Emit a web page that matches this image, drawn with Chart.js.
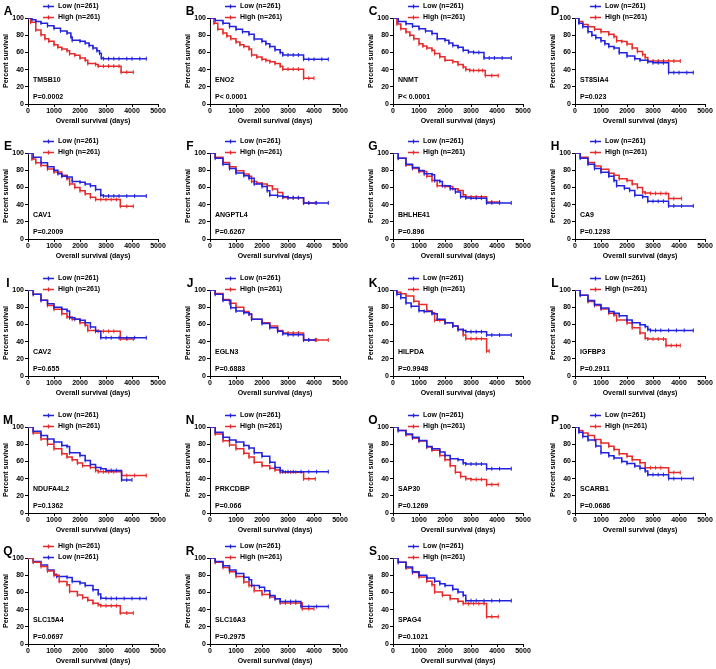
<!DOCTYPE html>
<html>
<head>
<meta charset="utf-8">
<script src="https://cdn.jsdelivr.net/npm/chart.js@4.4.0/dist/chart.umd.min.js"></script>
<style>
  body { margin: 0; background: #fff; width: 716px; height: 669px; overflow: hidden; position: relative; }
  canvas.panel { position: absolute; }
</style>
</head>
<body>
<script>
// panel labels
var letters = ['A','B','C','D','E','F','G','H','I','J','K','L','M','N','O','P','Q','R','S'];
var genes = ['TMSB10','ENO2','NNMT','ST8SIA4','CAV1','ANGPTL4','BHLHE41','CA9','CAV2','EGLN3','HILPDA','IGFBP3','NDUFA4L2','PRKCDBP','SAP30','SCARB1','SLC15A4','SLC16A3','SPAG4'];
var pValues = ['P=0.0002','P< 0.0001','P< 0.0001','P=0.023','P=0.2009','P=0.6267','P=0.896','P=0.1293','P=0.655','P=0.6883','P=0.9948','P=0.2911','P=0.1362','P=0.066','P=0.1269','P=0.0686','P=0.0697','P=0.2975','P=0.1021'];
var lowLabel = 'Low (n=261)';
var highLabel = 'High (n=261)';
var highFirst = ['Q']; // legend lists High first in these panels

var xTicks = [0, 1000, 2000, 3000, 4000, 5000];
var yTicks = [0, 20, 40, 60, 80, 100];

// survival curves, [days, percent survival]
var lowA = [[0,100],[150,98],[300,96],[500,94],[750,91],[1000,88],[1250,85],[1500,82.5],[1650,78],[1700,74],[2000,73],[2200,71],[2350,68],[2500,65],[2650,62],[2750,59],[2820,53.5],[2900,52.7],[3100,52.7],[3300,52.7],[3500,52.7],[3800,52.7],[4000,52.7],[4300,52.7],[4550,52.7]];
var highA = [[0,100],[100,95],[300,86],[500,80.6],[650,76],[800,73],[1000,69],[1150,66],[1300,64],[1500,62],[1600,58.5],[1800,56.6],[2000,53.5],[2200,51],[2300,47],[2600,46],[2700,44],[2900,44],[3100,44],[3300,44],[3500,44],[3580,37],[3800,37],[4050,37]];
var lowB = [[0,100],[200,97],[500,94],[750,90],[1000,87],[1250,84],[1500,81],[1700,75.6],[2000,73],[2150,70],[2300,67],[2500,63],[2700,60],[2800,57],[3000,57],[3200,57],[3400,57],[3600,52],[3800,52],[4000,52],[4300,52],[4550,52]];
var highB = [[0,100],[150,94],[300,87],[500,82.5],[650,79],[800,76],[1000,72],[1150,69],[1300,67],[1500,64],[1600,57],[1800,54.6],[2000,52],[2150,50.5],[2300,49],[2500,47],[2700,44],[2800,40.5],[3000,40.5],[3200,40.5],[3400,40.5],[3600,30],[3800,30],[4000,30]];
var lowC = [[0,100],[200,96],[500,93.4],[750,90.5],[1000,87.6],[1250,85],[1500,82],[1700,76],[2000,74],[2150,71],[2300,68],[2500,66],[2700,62.5],[2900,60.5],[3100,60],[3300,60],[3500,53.5],[3700,53.5],[3900,53.5],[4200,53.5],[4550,53.5]];
var highC = [[0,100],[150,93],[300,87.6],[500,83.8],[650,80],[800,76],[1000,70],[1150,67.5],[1300,65],[1500,62.5],[1600,58.7],[1800,54.8],[2000,51],[2300,49],[2500,46],[2700,43],[2800,40],[2950,39],[3100,39],[3300,39],[3450,39],[3550,33],[3800,33],[4050,33]];
var lowD = [[0,100],[150,94],[300,89.8],[500,84],[650,80],[800,77],[1000,73.5],[1150,70],[1300,67],[1500,65],[1700,59.5],[2000,55.7],[2300,52.7],[2500,51],[2800,49],[3000,48],[3200,48],[3400,48],[3600,36.5],[3800,36.5],[4000,36.5],[4300,36.5],[4550,36.5]];
var highD = [[0,100],[150,96],[300,92.4],[500,89.8],[750,87],[1000,84],[1300,81],[1500,78.4],[1600,73.5],[1800,72.7],[2000,69.7],[2200,65],[2400,61],[2600,57.6],[2700,54],[2800,50],[3000,50],[3200,50],[3400,50],[3600,50],[3800,50],[4050,50]];
var lowE = [[0,100],[200,95],[500,88.7],[750,84],[1000,80],[1150,76],[1300,73],[1500,72],[1700,67],[2000,66],[2200,64],[2400,62],[2600,57.6],[2800,51],[2900,50],[3100,50],[3300,50],[3500,50],[3800,50],[4100,50],[4550,50]];
var highE = [[0,100],[150,93],[300,88.7],[500,85.6],[750,81.5],[1000,77.8],[1300,74],[1500,70],[1600,64],[1800,60],[2000,56],[2200,52.5],[2400,48.6],[2600,46],[2800,46],[3000,46],[3200,46],[3400,46],[3550,38],[3800,38],[4050,38]];
var lowF = [[0,100],[200,94],[500,87],[750,82],[1000,76.7],[1300,73.6],[1500,70.5],[1700,64],[2000,61],[2200,56],[2300,51],[2600,50],[2800,49],[3000,48],[3200,48],[3400,48],[3600,42],[3800,42],[4100,42],[4550,42]];
var highF = [[0,100],[200,95],[500,89],[750,84],[1000,79.5],[1300,75.6],[1500,73],[1600,67],[1800,65],[2000,64],[2200,62],[2400,58],[2600,54],[2800,48.4],[3000,48],[3200,48],[3400,48],[3600,42],[3800,42],[4050,42]];
var lowG = [[0,100],[200,94],[500,87],[750,83],[1000,79.6],[1200,75.8],[1500,74.6],[1600,68],[1800,67],[1900,62],[2200,58.5],[2400,54.6],[2600,49],[2800,47.7],[3000,47.5],[3200,47.5],[3400,47.5],[3600,42],[3800,42],[4100,42],[4550,42]];
var highG = [[0,100],[200,94],[500,86],[750,82],[1000,78.5],[1300,73],[1500,68],[1700,62],[2000,61],[2300,58.5],[2500,56.5],[2700,51.5],[2800,49],[3000,49],[3200,49],[3400,49],[3600,43],[3800,43],[4100,43]];
var lowH = [[0,100],[200,94],[500,87],[750,82],[1000,77.7],[1300,73],[1500,68],[1600,62],[1900,59],[2100,56.5],[2300,50.8],[2600,49],[2800,43.8],[3000,43.8],[3200,43.8],[3400,43.8],[3600,38.5],[3800,38.5],[4100,38.5],[4550,38.5]];
var highH = [[0,100],[200,95],[500,89],[750,85],[1000,81],[1300,76.5],[1500,74],[1700,70],[2000,68],[2200,64],[2400,60],[2600,54.6],[2700,53.5],[2900,53],[3100,53],[3300,53],[3500,53],[3600,47],[3800,47],[4100,47]];
var lowI = [[0,100],[200,95],[500,88],[750,84],[1000,80],[1300,77.5],[1500,75.6],[1600,67.8],[1800,66],[2000,64.7],[2200,62],[2400,57],[2600,52],[2800,44.5],[3000,44.5],[3200,44.5],[3500,44.5],[3800,44.5],[4100,44.5],[4550,44.5]];
var highI = [[0,100],[200,95],[500,88],[750,82],[1000,77.5],[1300,72.5],[1500,68.6],[1700,66],[2000,62],[2200,59],[2300,53],[2700,52],[2900,52],[3100,52],[3300,52],[3550,43],[3800,43],[4050,43]];
var lowJ = [[0,100],[200,95],[500,88],[800,79.5],[1000,75.6],[1300,73.6],[1500,72],[1600,66],[2000,61],[2300,56],[2600,52],[2800,49],[3000,48],[3200,48],[3400,48],[3600,42],[3800,42],[4050,42]];
var highJ = [[0,100],[200,96],[500,89],[750,84.5],[1000,80],[1300,75],[1500,72],[1600,66],[2000,62],[2300,58],[2600,53],[2800,50],[3000,50],[3200,50],[3400,50],[3600,42],[3800,42],[4100,42],[4550,42]];
var lowK = [[0,100],[150,95],[300,91],[500,85],[700,81],[1000,76],[1200,75],[1500,72.5],[1700,66],[2000,62],[2300,58],[2500,54],[2700,53],[2800,51.5],[3000,51.5],[3200,51.5],[3400,51.5],[3600,47.7],[3800,47.7],[4100,47.7],[4550,47.7]];
var highK = [[0,100],[150,97.5],[300,95.7],[500,93],[800,87],[1000,83],[1300,76],[1500,73.6],[1600,64.7],[1800,64.7],[2000,62],[2300,58],[2500,54],[2700,47.7],[2800,43.4],[3000,43.4],[3200,43.4],[3400,43.4],[3600,29],[3700,29]];
var lowL = [[0,100],[200,94],[500,87.7],[750,83],[1000,79],[1300,75],[1500,73],[1700,70],[2000,65],[2200,62],[2500,59.6],[2700,57.7],[2800,54],[2900,53],[3100,53],[3300,53],[3600,53],[3900,53],[4200,53],[4550,53]];
var highL = [[0,100],[200,94],[500,86.5],[750,82],[1000,78],[1300,73],[1500,71],[1600,65],[2000,61.5],[2200,56],[2500,50],[2700,44],[2800,43],[3000,43],[3200,43],[3400,43],[3500,35.4],[3700,35.4],[3900,35.4],[4050,35.4]];
var lowM = [[0,100],[200,95],[500,90],[750,86],[1000,82.5],[1300,78.6],[1500,77.4],[1600,70],[2000,67],[2200,61],[2400,56.4],[2600,53],[2800,51.4],[3000,49.4],[3200,49.4],[3400,49.4],[3600,38.5],[3800,38.5],[4000,38.5]];
var highM = [[0,100],[200,93],[500,86],[750,80],[1000,74.7],[1300,69],[1500,65],[1700,62],[1900,58],[2100,55],[2400,53],[2600,49.4],[2700,48],[2900,48],[3100,48],[3300,48],[3600,43.6],[3800,43.6],[4100,43.6],[4550,43.6]];
var lowN = [[0,100],[200,94],[500,88],[750,85],[1000,82.5],[1300,78.6],[1500,75.5],[1700,70],[2000,66],[2300,59],[2500,53],[2700,49.4],[2800,48],[3000,48],[3200,48],[3500,48],[3800,48],[4100,48],[4550,48]];
var highN = [[0,100],[200,92],[500,84],[750,79],[1000,74.7],[1300,69.6],[1500,65],[1700,59],[2000,55],[2300,52],[2500,50],[2700,47.5],[2900,47.5],[3100,47.5],[3300,47.5],[3600,39.7],[3800,39.7],[4050,39.7]];
var lowO = [[0,100],[200,96],[500,92],[750,88],[1000,84.4],[1300,77.4],[1500,74.7],[1800,70.8],[2000,67],[2200,63],[2500,62],[2700,58],[2800,57],[3000,57],[3200,57],[3400,57],[3600,51.5],[3800,51.5],[4100,51.5],[4550,51.5]];
var highO = [[0,100],[200,96],[500,91],[750,87],[1000,83.6],[1300,76.6],[1500,73],[1800,67],[2000,62],[2200,55],[2400,47.5],[2600,42.4],[2800,39.7],[3000,39],[3200,39],[3400,39],[3600,33],[3800,33],[4050,33]];
var lowP = [[0,100],[150,94],[300,89],[500,85],[800,78],[1000,70],[1300,66.5],[1500,64],[1800,60],[2000,57.7],[2300,54.6],[2500,52],[2700,48.8],[2800,44.6],[3000,44.6],[3200,44.6],[3400,44.6],[3600,40],[3800,40],[4100,40],[4550,40]];
var highP = [[0,100],[150,96],[300,93],[500,90],[750,85.5],[1000,81.5],[1300,77.7],[1500,73.8],[1700,68.8],[2000,66],[2200,62],[2500,58.5],[2700,52.7],[2900,52.7],[3100,52.7],[3300,52.7],[3600,47],[3800,47],[4050,47]];
var lowQ = [[0,100],[200,96],[500,92],[750,86],[1000,81],[1100,78.6],[1500,77.4],[1700,72.8],[2000,70.8],[2200,68],[2500,63],[2700,58],[2800,53.3],[3000,53],[3200,53],[3400,53],[3700,53],[4000,53],[4300,53],[4550,53]];
var highQ = [[0,100],[200,95],[500,90],[750,85],[1000,79.8],[1200,72.8],[1500,69],[1600,61],[1900,57],[2100,54],[2300,51],[2500,47.5],[2700,45.5],[2800,44.5],[3000,44.5],[3200,44.5],[3400,44.5],[3550,36],[3800,36],[4050,36]];
var lowR = [[0,100],[200,96],[500,91],[750,86],[1000,82],[1300,77.7],[1500,74.6],[1600,68],[1900,66],[2100,62],[2300,56.5],[2500,52.7],[2700,49.5],[2900,49.5],[3100,49.5],[3300,49.5],[3500,43.5],[3800,43.5],[4100,43.5],[4550,43.5]];
var highR = [[0,100],[200,95],[500,89],[750,84],[1000,78.5],[1300,72],[1500,68],[1700,62],[2000,57.7],[2300,54.6],[2500,52.7],[2700,47.7],[2900,47.7],[3100,47.7],[3300,47.7],[3550,41],[3800,41],[4000,41]];
var lowS = [[0,100],[200,95],[500,89.5],[750,84],[1000,80],[1300,76.7],[1600,73],[1800,70],[2000,68],[2300,63.6],[2500,60.5],[2700,56.6],[2800,50.4],[3000,50.4],[3200,50.4],[3500,50.4],[3800,50.4],[4100,50.4],[4550,50.4]];
var highS = [[0,100],[200,95],[500,88.4],[750,83],[1000,78],[1300,73],[1500,69],[1600,60.5],[1900,56.6],[2200,52.7],[2500,49.6],[2700,47],[2900,47],[3100,47],[3300,47],[3500,47],[3600,31.8],[3800,31.8],[4050,31.8]];

var lowCurves = [lowA,lowB,lowC,lowD,lowE,lowF,lowG,lowH,lowI,lowJ,lowK,lowL,lowM,lowN,lowO,lowP,lowQ,lowR,lowS];
var highCurves = [highA,highB,highC,highD,highE,highF,highG,highH,highI,highJ,highK,highL,highM,highN,highO,highP,highQ,highR,highS];

// page layout: plot-area left edge per column, top edge per row
var colLeft = [28, 210, 393, 575];
var rowTop = [18, 153, 290, 427, 558];

var BLUE = '#2323dc';
var RED = '#e52b2b';
var FAMILY = '"Liberation Sans", Arial, sans-serif';
var font7 = { family: FAMILY, size: 7, weight: 'bold' };

var panelText = {
  id: 'panelText',
  afterDraw: function (chart) {
    var ctx = chart.ctx, a = chart.chartArea, o = chart.options.plugins.panelText;
    ctx.save();
    ctx.fillStyle = '#000';
    ctx.font = 'bold 12px ' + FAMILY;
    ctx.textAlign = 'center';
    ctx.textBaseline = 'middle';
    ctx.fillText(o.letter, a.left - 20, a.top - 6);

    // legend
    ctx.font = 'bold 7px ' + FAMILY;
    ctx.textAlign = 'left';
    chart.data.datasets.forEach(function (ds, k) {
      var y = Math.round(a.top - 12 + k * 11) + 0.5;
      ctx.strokeStyle = ds.borderColor;
      ctx.lineWidth = 1.3;
      ctx.beginPath();
      ctx.moveTo(a.left + 15, y);
      ctx.lineTo(a.left + 26, y);
      ctx.moveTo(a.left + 20.5, y - 2);
      ctx.lineTo(a.left + 20.5, y + 2);
      ctx.stroke();
      ctx.fillStyle = '#000';
      ctx.fillText(ds.label, a.left + 30, y);
    });

    ctx.fillText(o.gene, a.left + 5, a.bottom - 24);
    ctx.fillText(o.p, a.left + 5, a.bottom - 7);
    ctx.restore();
  }
};

function toPoints(curve) {
  return curve.map(function (d) { return { x: d[0], y: d[1] }; });
}

function makeSeries(label, curve, color) {
  return {
    label: label,
    data: toPoints(curve),
    borderColor: color,
    backgroundColor: color,
    borderWidth: 1.5,
    showLine: true,
    stepped: true,
    pointStyle: 'line',
    rotation: 90,
    pointRadius: 2,
    pointBorderWidth: 1,
    pointBorderColor: color
  };
}

function plainTick(v) { return String(v); }

letters.forEach(function (letter, i) {
  var col = i % 4, row = Math.floor(i / 4);
  var canvas = document.createElement('canvas');
  canvas.className = 'panel';
  canvas.width = 170;
  canvas.height = 126;
  canvas.style.left = (colLeft[col] - 28) + 'px';
  canvas.style.top = (rowTop[row] - 18) + 'px';
  document.body.appendChild(canvas);

  var low = makeSeries(lowLabel, lowCurves[i], BLUE);
  var high = makeSeries(highLabel, highCurves[i], RED);
  var datasets = highFirst.indexOf(letter) !== -1 ? [high, low] : [low, high];

  new Chart(canvas, {
    type: 'scatter',
    data: { datasets: datasets },
    plugins: [panelText],
    options: {
      responsive: false,
      animation: false,
      devicePixelRatio: 1,
      layout: { padding: { top: 18, left: 0, right: 12, bottom: 0 } },
      plugins: {
        legend: { display: false },
        tooltip: { enabled: false },
        panelText: { letter: letter, gene: genes[i], p: pValues[i] }
      },
      scales: {
        x: {
          type: 'linear', min: 0, max: 5000,
          afterBuildTicks: function (s) { s.ticks = xTicks.map(function (v) { return { value: v }; }); },
          afterFit: function (s) { s.height = 22; },
          ticks: { color: '#000', font: font7, padding: 0, maxRotation: 0, autoSkip: false, callback: plainTick },
          grid: { display: true, drawOnChartArea: false, drawTicks: true, tickLength: 3, tickColor: '#000', tickWidth: 1 },
          border: { display: true, color: '#000', width: 1 },
          title: { display: true, text: 'Overall survival (days)', color: '#000', font: font7, padding: 1 }
        },
        y: {
          type: 'linear', min: 0, max: 100,
          afterBuildTicks: function (s) { s.ticks = yTicks.map(function (v) { return { value: v }; }); },
          afterFit: function (s) { s.width = 28; },
          ticks: { color: '#000', font: font7, padding: 1, autoSkip: false, callback: plainTick },
          grid: { display: true, drawOnChartArea: false, drawTicks: true, tickLength: 3, tickColor: '#000', tickWidth: 1 },
          border: { display: true, color: '#000', width: 1 },
          title: { display: true, text: 'Percent survival', color: '#000', font: font7, padding: 2 }
        }
      }
    }
  });
});
</script>
</body>
</html>
